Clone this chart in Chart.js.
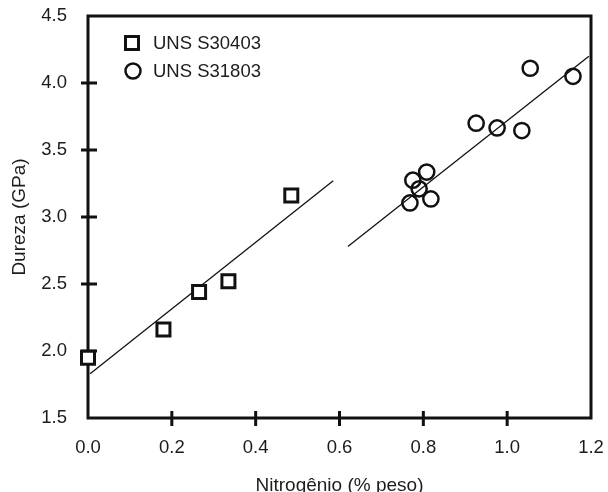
<!DOCTYPE html>
<html>
<head>
  <meta charset="UTF-8">
  <title>Dureza x Nitrogênio</title>
  <script src="https://cdn.jsdelivr.net/npm/chart.js"></script>
  <style>
    html, body { margin: 0; padding: 0; background: #fff; }
    #wrap { width: 608px; height: 492px; }
  </style>
</head>
<body>
  <div id="wrap"><canvas id="chart"></canvas></div>
  <script>
    // values
    var s30403N = [0.0, 0.18, 0.265, 0.335, 0.485];
    var s30403H = [1.95, 2.16, 2.44, 2.52, 3.16];
    var s31803N = [1.055, 1.157, 0.926, 0.976, 1.035, 0.808, 0.775, 0.79, 0.768, 0.818];
    var s31803H = [4.11, 4.05, 3.70, 3.665, 3.645, 3.335, 3.275, 3.21, 3.105, 3.135];
    // fitted lines (end points)
    var fit1N = [0.005, 0.585];
    var fit1H = [1.83, 3.27];
    var fit2N = [0.62, 1.195];
    var fit2H = [2.78, 4.20];

    var legendNames = ['UNS S30403', 'UNS S31803'];
    var FONT = 'Arial, "Liberation Sans", sans-serif';
    var INK = '#111';
    var TXT = '#1c1c1c';

    function pts(xs, ys) {
      return xs.map(function (x, i) { return { x: x, y: ys[i] }; });
    }

    // frame + crossing tick marks on the left and bottom axes
    var framePlugin = {
      id: 'frame',
      beforeDatasetsDraw: function (chart) {
        var ctx = chart.ctx, a = chart.chartArea;
        ctx.save();
        ctx.strokeStyle = INK;
        ctx.lineWidth = 3;
        ctx.strokeRect(a.left, a.top, a.right - a.left, a.bottom - a.top);
        var xs = chart.scales.x, ys = chart.scales.y;
        ctx.beginPath();
        xs.ticks.forEach(function (t, i) {
          if (i === 0 || i === xs.ticks.length - 1) return;
          var px = xs.getPixelForValue(t.value);
          ctx.moveTo(px, a.bottom - 7);
          ctx.lineTo(px, a.bottom + 8);
        });
        ys.ticks.forEach(function (t, i) {
          if (i === 0 || i === ys.ticks.length - 1) return;
          var py = ys.getPixelForValue(t.value);
          ctx.moveTo(a.left - 7, py);
          ctx.lineTo(a.left + 9, py);
        });
        ctx.stroke();
        ctx.restore();
      }
    };

    var legendPlugin = {
      id: 'boxLegend',
      afterDraw: function (chart) {
        var ctx = chart.ctx, a = chart.chartArea;
        ctx.save();
        ctx.strokeStyle = INK;
        ctx.fillStyle = TXT;
        ctx.font = '18.5px ' + FONT;
        ctx.textBaseline = 'middle';
        var x0 = a.left + 44, y0 = a.top + 27, dy = 28;
        ctx.lineWidth = 3;
        ctx.strokeRect(x0 - 6.5, y0 - 6.5, 13, 13);
        ctx.lineWidth = 2.5;
        ctx.beginPath();
        ctx.arc(x0 + 1, y0 + dy, 7.5, 0, Math.PI * 2);
        ctx.stroke();
        ctx.fillText(legendNames[0], a.left + 65, y0 + 1);
        ctx.fillText(legendNames[1], a.left + 65, y0 + dy + 1);
        ctx.restore();
      }
    };

    new Chart(document.getElementById('chart'), {
      type: 'scatter',
      data: {
        datasets: [
          {
            label: legendNames[0],
            data: pts(s30403N, s30403H),
            pointStyle: 'rect',
            pointRadius: 9.2,
            pointHoverRadius: 9.2,
            pointBorderWidth: 3,
            borderColor: INK,
            backgroundColor: '#fff',
            clip: false
          },
          {
            label: legendNames[1],
            data: pts(s31803N, s31803H),
            pointStyle: 'circle',
            pointRadius: 7.6,
            pointHoverRadius: 7.6,
            pointBorderWidth: 2.5,
            borderColor: INK,
            backgroundColor: 'rgba(0,0,0,0)',
            clip: false
          },
          {
            label: 'fit1',
            data: pts(fit1N, fit1H),
            showLine: true,
            pointRadius: 0,
            borderWidth: 1.3,
            borderColor: INK
          },
          {
            label: 'fit2',
            data: pts(fit2N, fit2H),
            showLine: true,
            pointRadius: 0,
            borderWidth: 1.3,
            borderColor: INK
          }
        ]
      },
      options: {
        responsive: true,
        maintainAspectRatio: false,
        animation: false,
        layout: { padding: { top: 16, right: 17, left: 0, bottom: 0 } },
        plugins: {
          legend: { display: false },
          tooltip: { enabled: false }
        },
        scales: {
          x: {
            type: 'linear',
            min: 0,
            max: 1.2,
            grid: { display: false, drawTicks: false },
            border: { display: false },
            ticks: {
              stepSize: 0.2,
              padding: 19,
              color: TXT,
              font: { family: FONT, size: 18.5 },
              callback: function (v) { return v.toFixed(1); }
            },
            title: {
              display: true,
              text: 'Nitrogênio (% peso)',
              color: TXT,
              font: { family: FONT, size: 19 },
              padding: { top: 0, bottom: -5 }
            },
            afterFit: function (s) {
              s.height = 74;
              s.paddingLeft = 0;
              s.paddingRight = 0;
            }
          },
          y: {
            type: 'linear',
            min: 1.5,
            max: 4.5,
            grid: { display: false, drawTicks: false },
            border: { display: false },
            ticks: {
              stepSize: 0.5,
              padding: 21,
              color: TXT,
              font: { family: FONT, size: 18.5 },
              callback: function (v) { return v.toFixed(1); }
            },
            title: {
              display: true,
              text: 'Dureza (GPa)',
              color: TXT,
              font: { family: FONT, size: 19 },
              padding: { top: 8, bottom: 0 }
            },
            afterFit: function (s) {
              s.width = 88;
              s.paddingTop = 0;
              s.paddingBottom = 0;
            }
          }
        }
      },
      plugins: [framePlugin, legendPlugin]
    });
  </script>
</body>
</html>
